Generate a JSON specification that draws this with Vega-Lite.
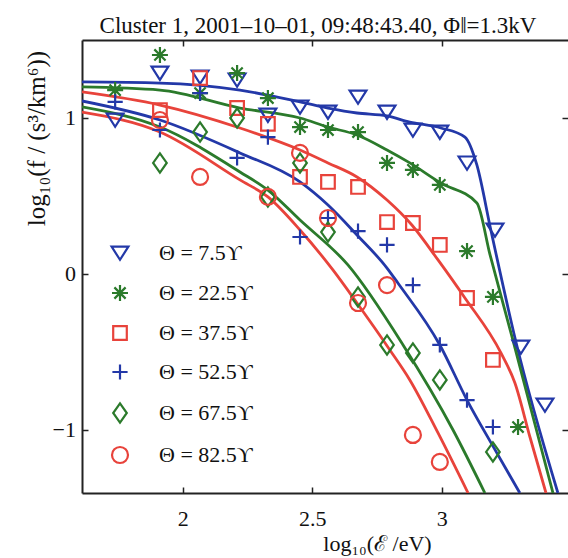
{
  "$schema": "https://vega.github.io/schema/vega-lite/v6.json",
  "width": 486,
  "height": 453,
  "autosize": {"type": "none"},
  "padding": {"left": 82, "top": 40, "right": 0, "bottom": 65},
  "background": "white",
  "title": {"text": "Cluster 1, 2001–10–01, 09:48:43.40, Φ‖=1.3kV", "font": "Liberation Serif", "fontSize": 23, "fontWeight": "normal", "color": "#111", "anchor": "middle", "offset": -17, "baseline": "alphabetic", "dx": -7},
  "config": {
    "view": {"stroke": null},
    "font": "Liberation Serif",
    "axis": {"grid": false, "domainColor": "#222", "domainWidth": 2, "tickColor": "#222", "tickWidth": 1.5, "tickSize": -6, "labelFont": "Liberation Serif", "labelFontSize": 22, "labelColor": "#111", "titleFont": "Liberation Serif", "titleFontSize": 22, "titleFontWeight": "normal", "titleColor": "#111"},
    "legend": {"labelFont": "Liberation Serif", "labelFontSize": 22, "labelColor": "#111", "labelOffset": 28, "rowPadding": 15, "symbolStrokeWidth": 2.2, "symbolSize": 256, "padding": 0}
  },
  "datasets": {
    "ylab": [{"y": 1, "l": "1"}, {"y": 0, "l": "0"}, {"y": -1, "l": "−1"}],
    "points": [
      {"t": "7.5", "x": 1.739, "y": 0.987}, {"t": "7.5", "x": 1.912, "y": 1.288}, {"t": "7.5", "x": 2.067, "y": 1.263}, {"t": "7.5", "x": 2.210, "y": 1.244}, {"t": "7.5", "x": 2.329, "y": 1.019}, {"t": "7.5", "x": 2.453, "y": 1.071}, {"t": "7.5", "x": 2.561, "y": 1.038}, {"t": "7.5", "x": 2.677, "y": 1.135}, {"t": "7.5", "x": 2.789, "y": 1.038}, {"t": "7.5", "x": 2.889, "y": 0.923}, {"t": "7.5", "x": 2.993, "y": 0.910}, {"t": "7.5", "x": 3.098, "y": 0.712}, {"t": "7.5", "x": 3.206, "y": 0.282}, {"t": "7.5", "x": 3.306, "y": -0.468}, {"t": "7.5", "x": 3.399, "y": -0.840},
      {"t": "22.5", "x": 1.739, "y": 1.179}, {"t": "22.5", "x": 1.912, "y": 1.404}, {"t": "22.5", "x": 2.067, "y": 1.160}, {"t": "22.5", "x": 2.210, "y": 1.288}, {"t": "22.5", "x": 2.329, "y": 1.128}, {"t": "22.5", "x": 2.453, "y": 0.942}, {"t": "22.5", "x": 2.561, "y": 0.923}, {"t": "22.5", "x": 2.677, "y": 0.910}, {"t": "22.5", "x": 2.789, "y": 0.712}, {"t": "22.5", "x": 2.889, "y": 0.667}, {"t": "22.5", "x": 2.993, "y": 0.571}, {"t": "22.5", "x": 3.098, "y": 0.147}, {"t": "22.5", "x": 3.198, "y": -0.147}, {"t": "22.5", "x": 3.295, "y": -0.981},
      {"t": "37.5", "x": 1.912, "y": 1.051}, {"t": "37.5", "x": 2.067, "y": 1.256}, {"t": "37.5", "x": 2.210, "y": 1.064}, {"t": "37.5", "x": 2.329, "y": 0.962}, {"t": "37.5", "x": 2.453, "y": 0.622}, {"t": "37.5", "x": 2.561, "y": 0.590}, {"t": "37.5", "x": 2.677, "y": 0.558}, {"t": "37.5", "x": 2.789, "y": 0.333}, {"t": "37.5", "x": 2.889, "y": 0.327}, {"t": "37.5", "x": 2.993, "y": 0.186}, {"t": "37.5", "x": 3.098, "y": -0.154}, {"t": "37.5", "x": 3.198, "y": -0.551},
      {"t": "52.5", "x": 1.739, "y": 1.103}, {"t": "52.5", "x": 1.912, "y": 0.923}, {"t": "52.5", "x": 2.067, "y": 1.160}, {"t": "52.5", "x": 2.210, "y": 0.744}, {"t": "52.5", "x": 2.329, "y": 0.878}, {"t": "52.5", "x": 2.453, "y": 0.237}, {"t": "52.5", "x": 2.561, "y": 0.359}, {"t": "52.5", "x": 2.677, "y": 0.275}, {"t": "52.5", "x": 2.789, "y": 0.186}, {"t": "52.5", "x": 2.889, "y": -0.071}, {"t": "52.5", "x": 2.993, "y": -0.455}, {"t": "52.5", "x": 3.098, "y": -0.808}, {"t": "52.5", "x": 3.198, "y": -0.981},
      {"t": "67.5", "x": 1.912, "y": 0.712}, {"t": "67.5", "x": 2.067, "y": 0.910}, {"t": "67.5", "x": 2.210, "y": 1.000}, {"t": "67.5", "x": 2.329, "y": 0.494}, {"t": "67.5", "x": 2.453, "y": 0.712}, {"t": "67.5", "x": 2.561, "y": 0.269}, {"t": "67.5", "x": 2.677, "y": -0.147}, {"t": "67.5", "x": 2.789, "y": -0.455}, {"t": "67.5", "x": 2.889, "y": -0.506}, {"t": "67.5", "x": 2.993, "y": -0.679}, {"t": "67.5", "x": 3.198, "y": -1.141},
      {"t": "82.5", "x": 1.912, "y": 0.987}, {"t": "82.5", "x": 2.067, "y": 0.622}, {"t": "82.5", "x": 2.329, "y": 0.494}, {"t": "82.5", "x": 2.453, "y": 0.776}, {"t": "82.5", "x": 2.561, "y": 0.359}, {"t": "82.5", "x": 2.677, "y": -0.186}, {"t": "82.5", "x": 2.789, "y": -0.071}, {"t": "82.5", "x": 2.889, "y": -1.032}, {"t": "82.5", "x": 2.993, "y": -1.205}
    ],
    "curves": [
      {"t": "7.5", "x": 1.611, "y": 1.231}, {"t": "7.5", "x": 1.912, "y": 1.224}, {"t": "7.5", "x": 2.221, "y": 1.179}, {"t": "7.5", "x": 2.453, "y": 1.103}, {"t": "7.5", "x": 2.561, "y": 1.064}, {"t": "7.5", "x": 2.673, "y": 1.032}, {"t": "7.5", "x": 2.789, "y": 1.013}, {"t": "7.5", "x": 2.877, "y": 0.974}, {"t": "7.5", "x": 2.997, "y": 0.936}, {"t": "7.5", "x": 3.090, "y": 0.878}, {"t": "7.5", "x": 3.136, "y": 0.699}, {"t": "7.5", "x": 3.190, "y": 0.282}, {"t": "7.5", "x": 3.287, "y": -0.436}, {"t": "7.5", "x": 3.449, "y": -1.404},
      {"t": "22.5", "x": 1.611, "y": 1.199}, {"t": "22.5", "x": 1.912, "y": 1.179}, {"t": "22.5", "x": 2.221, "y": 1.064}, {"t": "22.5", "x": 2.453, "y": 1.000}, {"t": "22.5", "x": 2.561, "y": 0.942}, {"t": "22.5", "x": 2.673, "y": 0.891}, {"t": "22.5", "x": 2.789, "y": 0.795}, {"t": "22.5", "x": 2.877, "y": 0.712}, {"t": "22.5", "x": 2.997, "y": 0.583}, {"t": "22.5", "x": 3.136, "y": 0.455}, {"t": "22.5", "x": 3.187, "y": 0.122}, {"t": "22.5", "x": 3.275, "y": -0.423}, {"t": "22.5", "x": 3.430, "y": -1.404},
      {"t": "37.5", "x": 1.611, "y": 1.167}, {"t": "37.5", "x": 1.912, "y": 1.083}, {"t": "37.5", "x": 2.221, "y": 0.936}, {"t": "37.5", "x": 2.453, "y": 0.795}, {"t": "37.5", "x": 2.561, "y": 0.712}, {"t": "37.5", "x": 2.673, "y": 0.622}, {"t": "37.5", "x": 2.789, "y": 0.474}, {"t": "37.5", "x": 2.885, "y": 0.314}, {"t": "37.5", "x": 2.986, "y": 0.090}, {"t": "37.5", "x": 3.090, "y": -0.154}, {"t": "37.5", "x": 3.229, "y": -0.506}, {"t": "37.5", "x": 3.283, "y": -0.699}, {"t": "37.5", "x": 3.341, "y": -1.045}, {"t": "37.5", "x": 3.403, "y": -1.404},
      {"t": "52.5", "x": 1.611, "y": 1.109}, {"t": "52.5", "x": 1.912, "y": 0.987}, {"t": "52.5", "x": 2.221, "y": 0.776}, {"t": "52.5", "x": 2.453, "y": 0.590}, {"t": "52.5", "x": 2.561, "y": 0.442}, {"t": "52.5", "x": 2.673, "y": 0.250}, {"t": "52.5", "x": 2.789, "y": 0.038}, {"t": "52.5", "x": 2.831, "y": -0.058}, {"t": "52.5", "x": 2.993, "y": -0.455}, {"t": "52.5", "x": 3.098, "y": -0.808}, {"t": "52.5", "x": 3.202, "y": -1.115}, {"t": "52.5", "x": 3.302, "y": -1.404},
      {"t": "67.5", "x": 1.611, "y": 1.071}, {"t": "67.5", "x": 1.912, "y": 0.942}, {"t": "67.5", "x": 2.221, "y": 0.654}, {"t": "67.5", "x": 2.329, "y": 0.538}, {"t": "67.5", "x": 2.453, "y": 0.346}, {"t": "67.5", "x": 2.638, "y": 0.058}, {"t": "67.5", "x": 2.851, "y": -0.455}, {"t": "67.5", "x": 3.044, "y": -1.000}, {"t": "67.5", "x": 3.167, "y": -1.404},
      {"t": "82.5", "x": 1.611, "y": 1.038}, {"t": "82.5", "x": 1.912, "y": 0.910}, {"t": "82.5", "x": 2.221, "y": 0.603}, {"t": "82.5", "x": 2.329, "y": 0.494}, {"t": "82.5", "x": 2.453, "y": 0.282}, {"t": "82.5", "x": 2.580, "y": 0.026}, {"t": "82.5", "x": 2.673, "y": -0.186}, {"t": "82.5", "x": 2.800, "y": -0.487}, {"t": "82.5", "x": 2.877, "y": -0.679}, {"t": "82.5", "x": 2.986, "y": -1.019}, {"t": "82.5", "x": 3.102, "y": -1.404}
    ]
  },
  "layer": [
    {
      "data": {"name": "curves"},
      "mark": {"type": "line", "strokeWidth": 2.8, "interpolate": "monotone", "clip": true},
      "encoding": {
        "x": {"field": "x", "type": "quantitative", "scale": {"domain": [1.611, 3.488], "nice": false, "zero": false},
              "axis": {"orient": "bottom", "values": [2, 2.5, 3], "format": "~g", "labelPadding": 21, "title": "log₁₀(ℰ /eV)", "titleX": 295, "titleY": 57, "titleAlign": "center", "titleBaseline": "alphabetic"}},
        "y": {"field": "y", "type": "quantitative", "scale": {"domain": [-1.404, 1.5], "nice": false, "zero": false},
              "axis": {"orient": "left", "values": [-1, 0, 1], "labels": false, "title": "log₁₀(f / (s³/km⁶))", "titleFontSize": 25, "titleX": -46, "titleY": 98, "titleAlign": "center", "titleBaseline": "middle", "titleAngle": -90}},
        "stroke": {"field": "t", "type": "nominal", "scale": {"domain": ["52.5", "67.5", "82.5", "7.5", "22.5", "37.5"], "range": ["#2338a8", "#2b7a2b", "#e8433b", "#2338a8", "#2b7a2b", "#e8433b"]}, "legend": null}
      }
    },
    {
      "data": {"name": "ylab"},
      "mark": {"type": "text", "align": "right", "baseline": "middle", "dx": -6, "font": "Liberation Serif", "fontSize": 22, "color": "#111"},
      "encoding": {
        "x": {"datum": 1.611, "type": "quantitative", "axis": null},
        "y": {"field": "y", "type": "quantitative", "axis": null},
        "text": {"field": "l", "type": "nominal"}
      }
    },
    {
      "data": {"name": "points"},
      "mark": {"type": "point", "filled": false, "strokeWidth": 2.2, "size": 256, "opacity": 1, "clip": true},
      "encoding": {
        "x": {"field": "x", "type": "quantitative", "scale": {"domain": [1.611, 3.488], "nice": false, "zero": false},
              "axis": {"orient": "top", "values": [2, 2.5, 3], "labels": false, "title": null}},
        "y": {"field": "y", "type": "quantitative", "scale": {"domain": [-1.404, 1.5], "nice": false, "zero": false},
              "axis": {"orient": "right", "values": [-1, 0, 1], "labels": false, "title": null, "domain": false}},
        "color": {"field": "t", "type": "nominal", "scale": {"domain": ["7.5", "22.5", "37.5", "52.5", "67.5", "82.5"], "range": ["#2338a8", "#2b7a2b", "#e8433b", "#2338a8", "#2b7a2b", "#e8433b"]},
                  "legend": {"orient": "none", "legendX": 27, "legendY": 202, "title": null, "labelExpr": "'Θ = ' + datum.label + 'ϒ'"}},
        "shape": {"field": "t", "type": "nominal", "scale": {"domain": ["7.5", "22.5", "37.5", "52.5", "67.5", "82.5"], "range": ["M-1.05,-0.8L1.05,-0.8L0,0.85Z", "M-1,0L1,0M0,-1L0,1M-0.7,-0.7L0.7,0.7M-0.7,0.7L0.7,-0.7", "M-0.85,-0.85L0.85,-0.85L0.85,0.85L-0.85,0.85Z", "M-0.95,0L0.95,0M0,-0.95L0,0.95", "M0,-1.2L0.85,0L0,1.2L-0.85,0Z", "M-1,0A1,1,0,1,0,1,0A1,1,0,1,0,-1,0Z"]},
                  "legend": {"orient": "none", "legendX": 27, "legendY": 202, "title": null, "labelExpr": "'Θ = ' + datum.label + 'ϒ'"}}
      }
    }
  ],
  "resolve": {"axis": {"x": "independent", "y": "independent"}}
}
